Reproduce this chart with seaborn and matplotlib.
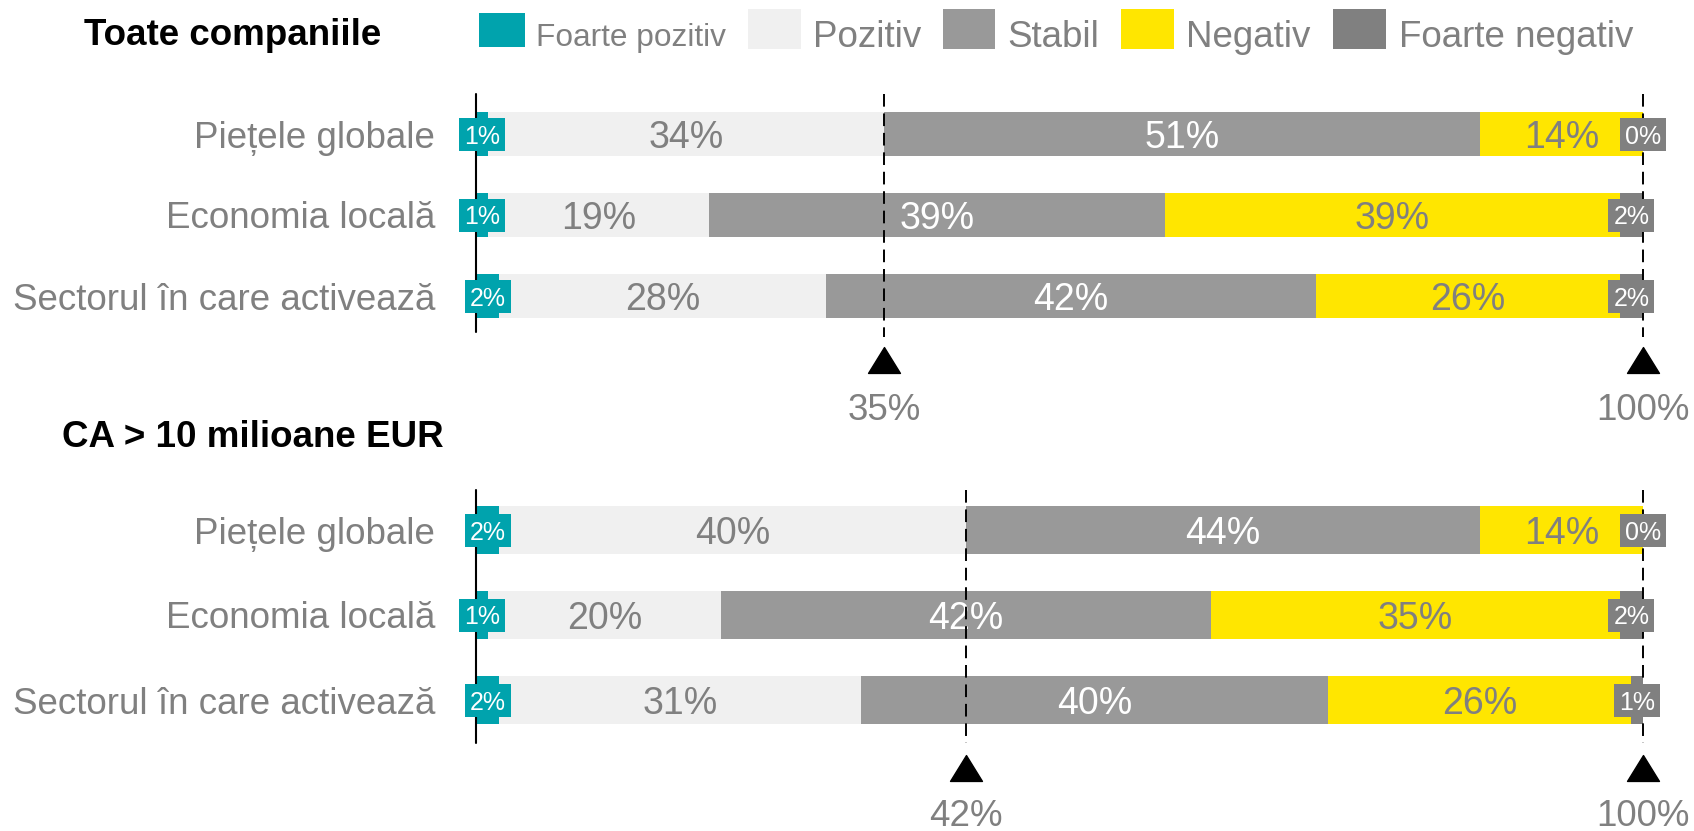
import numpy as np
import pandas as pd
import matplotlib
matplotlib.use("Agg")
import matplotlib.pyplot as plt
from matplotlib.patches import Rectangle
from matplotlib.path import Path
import seaborn as sns

# ---------------- data ----------------
categories = ["Piețele globale", "Economia locală", "Sectorul în care activează"]
series_names = ["Foarte pozitiv", "Pozitiv", "Stabil", "Negativ", "Foarte negativ"]
series_colors = ["#00A3AD", "#F0F0F0", "#999999", "#FFE600", "#808080"]
label_colors = ["white", "#808080", "white", "#808080", "white"]

panel_titles = ["Toate companiile", "CA > 10 milioane EUR"]

# Panel 1: Toate companiile
all_foarte_pozitiv = [1, 1, 2]
all_pozitiv = [34, 19, 28]
all_stabil = [51, 39, 42]
all_negativ = [14, 39, 26]
all_foarte_negativ = [0, 2, 2]
all_marks = [35, 100]

# Panel 2: CA > 10 milioane EUR
big_foarte_pozitiv = [2, 1, 2]
big_pozitiv = [40, 20, 31]
big_stabil = [44, 42, 40]
big_negativ = [14, 35, 26]
big_foarte_negativ = [0, 2, 1]
big_marks = [42, 100]

# ---------------- style ----------------
sns.set_style("white")
plt.rcParams["font.family"] = ["Liberation Sans", "DejaVu Sans"]
GRAY = "#808080"

W, H = 1694, 831
fig = plt.figure(figsize=(W / 100, H / 100), dpi=100)

X0, X1 = 476, 1643  # pixel positions of 0% and 100%
PX_PER_PCT = (X1 - X0) / 100.0
BOX_W_PX, BOX_H_PX = 46, 33  # size of the small label boxes

tri_marker = Path([(-1, -0.81), (1, -0.81), (0, 0.81), (-1, -0.81)],
                  [Path.MOVETO, Path.LINETO, Path.LINETO, Path.CLOSEPOLY])


def draw_panel(values, marks, row0, step, ax_top, ax_bottom, zero_span, dash_span,
               tri_y, lab_y):
    ax = fig.add_axes([X0 / W, 1 - ax_bottom / H, (X1 - X0) / W, (ax_bottom - ax_top) / H])
    vals = np.array(values)
    cum = np.cumsum(vals, axis=0)
    for i in reversed(range(len(series_names))):
        df = pd.DataFrame({"categorie": categories, "cumulat": cum[i]})
        sns.barplot(data=df, x="cumulat", y="categorie", orient="h", order=categories,
                    color=series_colors[i], saturation=1, width=0.555, linewidth=0,
                    errorbar=None, ax=ax, zorder=1)
    ax.set_xlim(0, 100)
    ax.set_ylim((ax_bottom - row0) / step, (ax_top - row0) / step)
    for s in ax.spines.values():
        s.set_visible(False)
    ax.set_xticks([])
    ax.set_xlabel("")
    ax.set_ylabel("")
    ax.tick_params(axis="y", length=0, pad=29.5, labelsize=26.5, labelcolor=GRAY)

    bw = BOX_W_PX / PX_PER_PCT
    bh = BOX_H_PX / step
    # value labels
    for i in range(len(series_names)):
        for j in range(len(categories)):
            v = vals[i, j]
            xc = cum[i, j] - v / 2
            if i in (0, 4):
                ax.add_patch(Rectangle((xc - bw / 2, j - bh / 2), bw, bh,
                                       fc=series_colors[i], ec="none", zorder=5,
                                       clip_on=False))
                ax.text(xc, j, f"{v}%", ha="center", va="center_baseline",
                        fontsize=18, color="white", zorder=6, clip_on=False)
            else:
                ax.text(xc, j, f"{v}%", ha="center", va="center_baseline",
                        fontsize=27, color=label_colors[i], zorder=3)

    # zero line
    ax.plot([0, 0], zero_span, color="black", lw=1.5, zorder=4, clip_on=False)
    # reference lines, triangles and labels
    for m in marks:
        ax.plot([m, m], dash_span, color="black", lw=1.4, ls=(0, (6.5, 3.5)),
                zorder=4, clip_on=False)
        ax.plot([m], [tri_y], marker=tri_marker, ms=23, color="black", ls="none",
                clip_on=False, zorder=4)
        ax.text(m, lab_y, f"{m}%", ha="center", va="center_baseline", fontsize=26.5,
                color=GRAY, clip_on=False)
    return ax


panel1 = [all_foarte_pozitiv, all_pozitiv, all_stabil, all_negativ, all_foarte_negativ]
panel2 = [big_foarte_pozitiv, big_pozitiv, big_stabil, big_negativ, big_foarte_negativ]

draw_panel(panel1, all_marks, row0=134, step=81, ax_top=80, ax_bottom=430,
           zero_span=[-0.494, 2.444], dash_span=[-0.494, 2.506], tri_y=2.79, lab_y=3.36)
draw_panel(panel2, big_marks, row0=530, step=85, ax_top=470, ax_bottom=831,
           zero_span=[-0.47, 2.506], dash_span=[-0.47, 2.506], tri_y=2.8, lab_y=3.32)

# titles
fig.text(84 / W, 1 - 45 / H, panel_titles[0], fontsize=26.5, fontweight="bold",
         color="black", va="baseline", ha="left")
fig.text(62 / W, 1 - 447 / H, panel_titles[1], fontsize=26.5, fontweight="bold",
         color="black", va="baseline", ha="left")

# legend
legend_boxes = [(479, 13, 46, 34), (748, 9, 53, 40), (943, 9, 52, 40),
                (1121, 9, 53, 40), (1333, 9, 53, 40)]
legend_text_x = [536, 813, 1007, 1186, 1399]
legend_sizes = [22.8, 26.5, 26.5, 26.5, 26.5]
legend_base = [45.7, 46.7, 46.7, 46.7, 46.7]
for i, name in enumerate(series_names):
    bx, by, bw_, bh_ = legend_boxes[i]
    fig.add_artist(Rectangle((bx / W, 1 - (by + bh_) / H), bw_ / W, bh_ / H,
                             transform=fig.transFigure, fc=series_colors[i], ec="none"))
    fig.text(legend_text_x[i] / W, 1 - legend_base[i] / H, name, fontsize=legend_sizes[i],
             color=GRAY, va="baseline", ha="left")

fig.savefig("out.png", dpi=100)
